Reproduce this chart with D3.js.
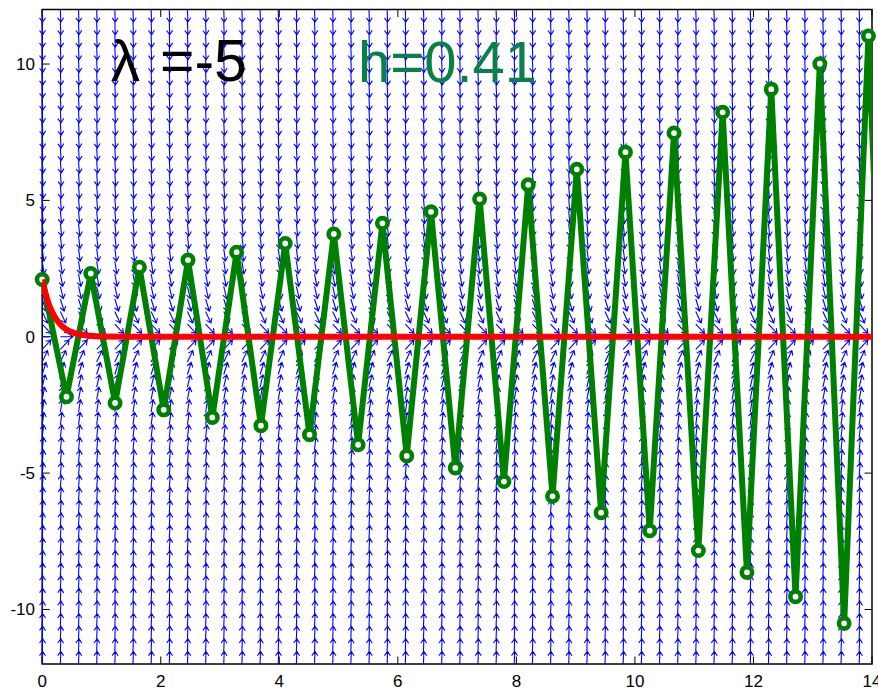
<!DOCTYPE html>
<html>
<head>
<meta charset="utf-8">
<script src="https://cdn.jsdelivr.net/npm/d3@7"></script>
<style>
  html,body{margin:0;padding:0;background:#fff;}
  svg{display:block;}
  text{font-family:"Liberation Sans",Arial,Helvetica,sans-serif;}
</style>
</head>
<body>
<svg id="chart" width="878" height="691"></svg>
<script>
// ---------- data ----------
const lambda = -5;
const stepH = 0.41;
const xTicks = [0, 2, 4, 6, 8, 10, 12, 14];
const yTicks = [-10, -5, 0, 5, 10];
const yTickLabels = ["-10", "-5", "0", "5", "10"];
// Euler approximation (green)
const eulerX = [0, 0.41, 0.82, 1.23, 1.64, 2.05, 2.46, 2.87, 3.28, 3.69, 4.10, 4.51,
  4.92, 5.33, 5.74, 6.15, 6.56, 6.97, 7.38, 7.79, 8.20, 8.61, 9.02, 9.43, 9.84,
  10.25, 10.66, 11.07, 11.48, 11.89, 12.30, 12.71, 13.12, 13.53, 13.94, 14.35];
const eulerY = [2.10, -2.20, 2.32, -2.43, 2.55, -2.68, 2.81, -2.96, 3.10, -3.26, 3.42, -3.59,
  3.77, -3.96, 4.16, -4.37, 4.58, -4.81, 5.05, -5.31, 5.57, -5.85, 6.14, -6.45, 6.77,
  -7.11, 7.47, -7.84, 8.23, -8.64, 9.08, -9.53, 10.01, -10.51, 11.03, -11.58];
// exact solution (red)
const exactX = [0, 0.05, 0.1, 0.15, 0.2, 0.3, 0.4, 0.5, 0.6, 0.8, 1.0, 1.5, 14];
const exactY = [2.10, 1.64, 1.27, 0.99, 0.77, 0.47, 0.28, 0.17, 0.10, 0.04, 0.01, 0, 0];
// direction-field grid
const fieldCols = d3.range(46).map(i => i * 0.3063);
const fieldRows = d3.range(53).map(j => -12 + j * 24 / 52);

// ---------- layout ----------
const svg = d3.select("#chart");
const x = d3.scaleLinear().domain([0, 14]).range([42.2, 872]);
const y = d3.scaleLinear().domain([-12, 12]).range([664, 9.5]);
const [x0, x1] = x.range();
const [y0, y1] = y.range();

svg.append("defs").append("clipPath").attr("id", "clip")
  .append("rect").attr("x", x0).attr("y", y1).attr("width", x1 - x0).attr("height", y0 - y1);

// ---------- box & ticks ----------
const axisG = svg.append("g");
axisG.append("rect").attr("x", x0).attr("y", y1).attr("width", x1 - x0).attr("height", y0 - y1)
  .attr("fill", "none").attr("stroke", "#000").attr("stroke-width", 1.5);
const tl = 7.5;
xTicks.forEach(v => {
  axisG.append("line").attr("x1", x(v)).attr("x2", x(v)).attr("y1", y0).attr("y2", y0 - tl).attr("stroke", "#000");
  axisG.append("line").attr("x1", x(v)).attr("x2", x(v)).attr("y1", y1).attr("y2", y1 + tl).attr("stroke", "#000");
  axisG.append("text").attr("x", x(v)).attr("y", 687).attr("text-anchor", "middle")
    .attr("font-size", 17).attr("fill", "#000").text(String(v));
});
yTicks.forEach((v, i) => {
  axisG.append("line").attr("x1", x0).attr("x2", x0 + tl).attr("y1", y(v)).attr("y2", y(v)).attr("stroke", "#000");
  axisG.append("line").attr("x1", x1).attr("x2", x1 - tl).attr("y1", y(v)).attr("y2", y(v)).attr("stroke", "#000");
  axisG.append("text").attr("x", 35).attr("y", y(v) + 6).attr("text-anchor", "end")
    .attr("font-size", 17).attr("fill", "#000").text(yTickLabels[i]);
});

// ---------- direction field ----------
const sx = x(1) - x(0);
const sy = y(0) - y(1);
const L = 12.6, headBack = 4.3, headHalf = 3.0;
const fieldG = svg.append("g").attr("stroke", "#0000ff").attr("stroke-width", 1.1).attr("fill", "none");
let pathStr = "";
fieldCols.forEach(xv => {
  fieldRows.forEach(yv => {
    const f = lambda * yv;
    let dx = sx * 1, dy = -sy * f;
    const n = Math.hypot(dx, dy);
    dx /= n; dy /= n;
    const tx = x(xv), ty = y(yv);
    const hx = tx + L * dx, hy = ty + L * dy;
    const bx = hx - headBack * dx, by = hy - headBack * dy;
    const px = -dy, py = dx;
    pathStr += `M${tx},${ty}L${hx},${hy}`;
    pathStr += `M${bx + headHalf * px},${by + headHalf * py}L${hx},${hy}L${bx - headHalf * px},${by - headHalf * py}`;
  });
});
fieldG.append("path").attr("d", pathStr);

// ---------- Euler (green) ----------
const eulerPts = eulerX.map((v, i) => [v, eulerY[i]]);
const line = d3.line().x(d => x(d[0])).y(d => y(d[1]));
svg.append("path").attr("clip-path", "url(#clip)")
  .attr("d", line(eulerPts)).attr("fill", "none").attr("stroke", "#008000")
  .attr("stroke-width", 6).attr("stroke-linejoin", "round");
svg.append("g").selectAll("circle").data(eulerPts.filter(d => d[0] <= 14)).join("circle")
  .attr("cx", d => x(d[0])).attr("cy", d => y(d[1])).attr("r", 5.2)
  .attr("fill", "#fff").attr("stroke", "#008000").attr("stroke-width", 4.6);

// ---------- exact (red) ----------
const exactPts = exactX.map((v, i) => [v, exactY[i]]);
svg.append("path").attr("clip-path", "url(#clip)")
  .attr("d", d3.line().x(d => x(d[0])).y(d => y(d[1])).curve(d3.curveMonotoneX)(exactPts))
  .attr("fill", "none").attr("stroke", "#ff0000").attr("stroke-width", 6);

// ---------- annotations ----------
svg.append("text").attr("x", 111).attr("y", 81).attr("font-size", 58)
  .attr("font-family", "'Liberation Serif','DejaVu Serif',serif").attr("fill", "#000").text("λ");
svg.append("text").attr("x", 160).attr("y", 81).attr("font-size", 59).attr("fill", "#000").text("=-5");
svg.append("text").attr("x", 358).attr("y", 81.5).attr("font-size", 58).attr("fill", "#0a7f47").text("h=" + stepH);
</script>
</body>
</html>
